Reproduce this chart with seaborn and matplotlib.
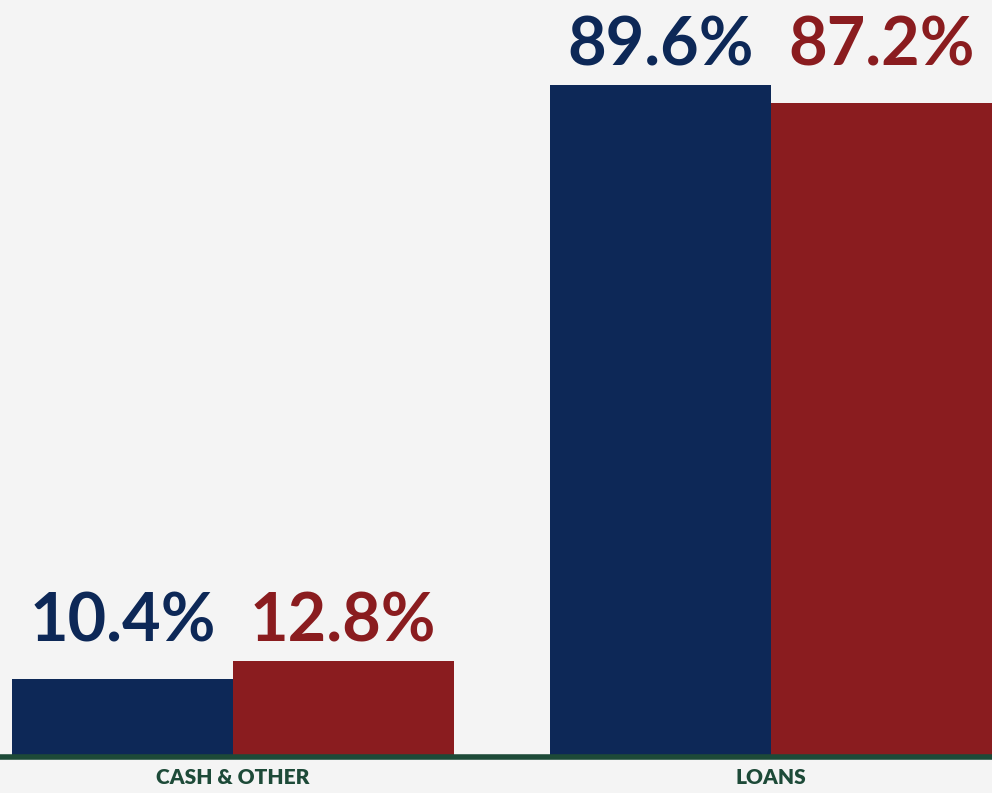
import matplotlib
matplotlib.use("Agg")
import matplotlib.pyplot as plt
import pandas as pd
import seaborn as sns

categories = ["CASH & OTHER", "LOANS"]
series = ["Series A", "Series B"]
values_a = [10.4, 89.6]
values_b = [12.8, 87.2]

NAVY = "#0d2857"
RED = "#8a1c1f"
GREEN = "#1d4a38"
BG = "#f4f4f4"

df = pd.DataFrame({
    "category": categories * 2,
    "series": [series[0]] * 2 + [series[1]] * 2,
    "value": values_a + values_b,
})

sns.set_theme(style="white")
plt.rcParams["font.family"] = ["Lato", "DejaVu Sans"]

fig = plt.figure(figsize=(9.92, 7.93), dpi=100, facecolor=BG)
ax = fig.add_axes([0, 36 / 793, 1, 757 / 793])
ax.set_facecolor(BG)

sns.barplot(data=df, x="category", y="value", hue="series",
            palette=[NAVY, RED], width=0.82, saturation=1,
            linewidth=0, legend=False, ax=ax)

ax.set_xlim(-233 / 538, 1 + 221 / 538)
ax.set_ylim(0, 101)

# value labels, both in a group level above the taller bar
label_colors = [NAVY, RED]
for cont, col, vals in zip(ax.containers, label_colors, [values_a, values_b]):
    for i, (bar, v) in enumerate(zip(cont, vals)):
        top = max(values_a[i], values_b[i])
        ax.text(bar.get_x() + bar.get_width() / 2, top + 2.6, f"{v}%",
                ha="center", va="baseline", fontsize=48, fontweight="bold",
                color=col)

for s in ["top", "left", "right"]:
    ax.spines[s].set_visible(False)
ax.spines["bottom"].set_color(GREEN)
ax.spines["bottom"].set_linewidth(4)

ax.set_yticks([])
ax.set_xlabel("")
ax.set_ylabel("")
ax.tick_params(axis="x", length=0, pad=8)
for lbl in ax.get_xticklabels():
    lbl.set_fontsize(15)
    lbl.set_fontweight("heavy")
    lbl.set_color(GREEN)

fig.savefig("out.png", dpi=100, facecolor=BG)
plt.close(fig)
